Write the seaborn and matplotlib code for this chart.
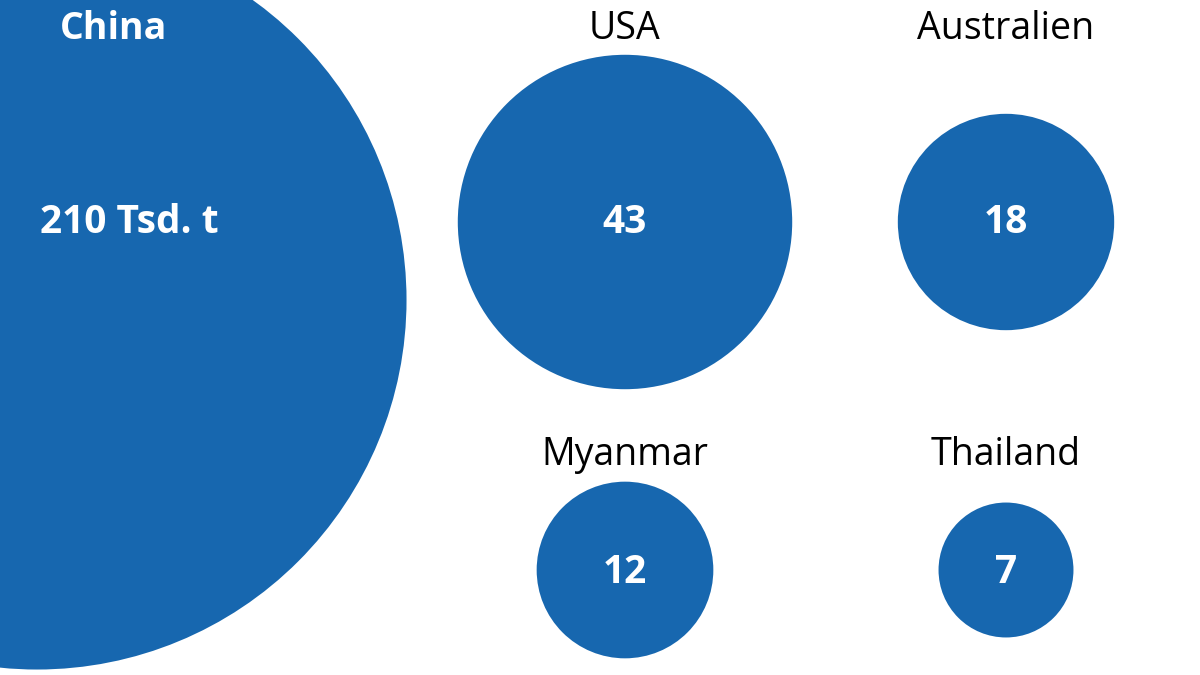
"""
Bubble chart: production in thousand tonnes by country.
"""

import matplotlib
matplotlib.use("Agg")
import matplotlib.pyplot as plt
import pandas as pd
import seaborn as sns

# data
countries = ["China", "USA", "Australien", "Myanmar", "Thailand"]
values = [210, 43, 18, 12, 7]
value_labels = ["210 Tsd. t", "43", "18", "12", "7"]

# layout (pixel grid of the 1200x675 canvas)
col_x = [37, 625, 1006]
row_y = [222, 570]
china_y = 300
slots = [(0, None), (1, 0), (2, 0), (1, 1), (2, 1)]

blue = "#1767af"
px_per_sqrt = 25.5  # bubble radius in px per sqrt(value)

sns.set_theme(style="white")
plt.rcParams["font.family"] = ["Open Sans", "DejaVu Sans"]

xs = [col_x[c] for c, r in slots]
ys = [china_y if r is None else row_y[r] for c, r in slots]
df = pd.DataFrame({"country": countries, "value": values, "x": xs, "y": ys})

fig = plt.figure(figsize=(12, 6.75), dpi=100)
ax = fig.add_axes([0, 0, 1, 1])

# marker area (pt^2) proportional to value: diameter in pt = 2 * r_px * 0.72
area_per_unit = (2 * px_per_sqrt * 72 / 100) ** 2
sns.scatterplot(data=df, x="x", y="y", size="value",
                sizes=(0, area_per_unit * max(values)), size_norm=(0, max(values)),
                color=blue, linewidth=0, alpha=1, legend=False, ax=ax)

ax.set_xlim(0, 1200)
ax.set_ylim(675, 0)
ax.axis("off")

# country names
name_colors = ["white", "black", "black", "black", "black"]
name_x = [114, 625, 1006, 625, 1006]
name_base = [39, 39, 39, 465, 465]
for name, nx, ny, col in zip(countries, name_x, name_base, name_colors):
    ax.text(nx, ny, name, ha="center", va="baseline", fontsize=27, color=col,
            fontweight="bold" if col == "white" else "normal")

# values
val_x = [129, 625, 1006, 625, 1006]
val_base = [233, 233, 233, 583, 583]
for lab, vx, vy in zip(value_labels, val_x, val_base):
    ax.text(vx, vy, lab, ha="center", va="baseline", fontsize=28,
            color="white", fontweight="bold")

fig.savefig("out.png", dpi=100, facecolor="white")
